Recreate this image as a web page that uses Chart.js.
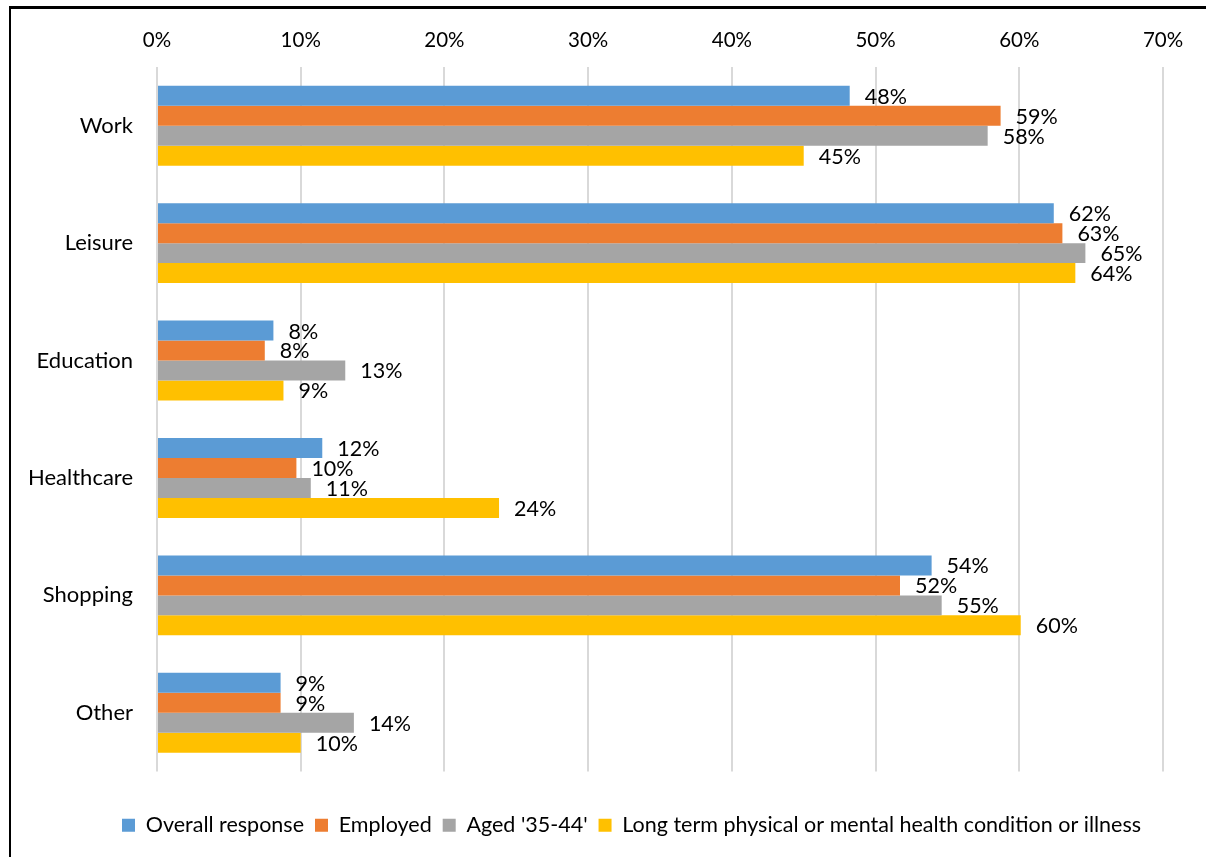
<!DOCTYPE html>
<html>
<head>
<meta charset="utf-8">
<script src="https://cdn.jsdelivr.net/npm/chart.js@4/dist/chart.umd.min.js"></script>
<style>
  html, body { margin: 0; padding: 0; background: #fff; }
  #wrap { position: relative; width: 1206px; height: 857px; overflow: hidden; }
  #frame { position: absolute; left: 9px; top: 6px; width: 1300px; height: 1000px;
           border-left: 2px solid #000; border-top: 3px solid #000; pointer-events: none; }
  canvas { position: absolute; left: 0; top: 0; }
</style>
</head>
<body>
<div id="wrap">
  <canvas id="c" width="1206" height="857"></canvas>
  <div id="frame"></div>
</div>
<script>
const categories = ['Work', 'Leisure', 'Education', 'Healthcare', 'Shopping', 'Other'];
const seriesNames = ['Overall response', 'Employed', "Aged '35-44'", 'Long term physical or mental health condition or illness'];
const overall  = [48.2, 62.4, 8.1, 11.5, 53.9, 8.6];
const employed = [58.7, 63.0, 7.5, 9.7, 51.7, 8.6];
const aged3544 = [57.8, 64.6, 13.1, 10.7, 54.6, 13.7];
const longTerm = [45.0, 63.9, 8.8, 23.8, 60.1, 10.0];
const xTicks = [0, 10, 20, 30, 40, 50, 60, 70];
const colors = ['#5B9BD5', '#ED7D31', '#A5A5A5', '#FFC000'];

const FONT = 'Lato, "Open Sans", sans-serif';

const valueLabels = {
  id: 'valueLabels',
  afterDatasetsDraw(chart) {
    const ctx = chart.ctx;
    ctx.save();
    ctx.font = '21.5px ' + FONT;
    ctx.fillStyle = '#000';
    ctx.textAlign = 'left';
    ctx.textBaseline = 'middle';
    chart.data.datasets.forEach((ds, di) => {
      const meta = chart.getDatasetMeta(di);
      meta.data.forEach((bar, i) => {
        ctx.fillText(Math.round(ds.data[i]) + '%', bar.x + 15, bar.y + 1);
      });
    });
    ctx.restore();
  }
};

// centre the legend under the frame rather than under the padded layout
const legendShift = {
  id: 'legendShift',
  afterLayout(chart) {
    const lg = chart.legend;
    if (lg) { lg.left += 50; lg.right += 50; }
  }
};

new Chart(document.getElementById('c'), {
  type: 'bar',
  data: {
    labels: categories,
    datasets: [
      { label: seriesNames[0], data: overall,  backgroundColor: colors[0] },
      { label: seriesNames[1], data: employed, backgroundColor: colors[1] },
      { label: seriesNames[2], data: aged3544, backgroundColor: colors[2] },
      { label: seriesNames[3], data: longTerm, backgroundColor: colors[3] }
    ]
  },
  options: {
    indexAxis: 'y',
    responsive: false,
    animation: false,
    layout: { padding: { top: 0, right: 43, bottom: 11, left: 0 } },
    datasets: { bar: { categoryPercentage: 0.68, barPercentage: 1.0, borderWidth: 0 } },
    scales: {
      x: {
        position: 'top',
        min: 0, max: 70,
        afterBuildTicks: s => { s.ticks = xTicks.map(v => ({ value: v })); },
        ticks: {
          callback: v => v + '%',
          font: { family: FONT, size: 20.5 },
          color: '#000',
          padding: 14
        },
        grid: { color: '#d9d9d9', lineWidth: 2, drawTicks: false },
        border: { display: false },
        afterFit: s => { s.height = 67; }
      },
      xb: {
        type: 'linear',
        position: 'bottom',
        display: true,
        ticks: { display: false },
        grid: { display: false, drawTicks: false },
        border: { display: false },
        afterFit: s => { s.height = 32; }
      },
      y: {
        ticks: {
          font: { family: FONT, size: 22 },
          color: '#000',
          padding: 24
        },
        grid: { display: false, drawTicks: false },
        border: { display: false },
        afterFit: s => { s.width = 157; }
      }
    },
    plugins: {
      legend: {
        position: 'bottom',
        labels: {
          font: { family: FONT, size: 21.5 },
          color: '#000',
          boxWidth: 13,
          boxHeight: 13,
          padding: 11
        }
      },
      tooltip: { enabled: false },
      title: { display: false }
    }
  },
  plugins: [valueLabels, legendShift]
});
</script>
</body>
</html>
